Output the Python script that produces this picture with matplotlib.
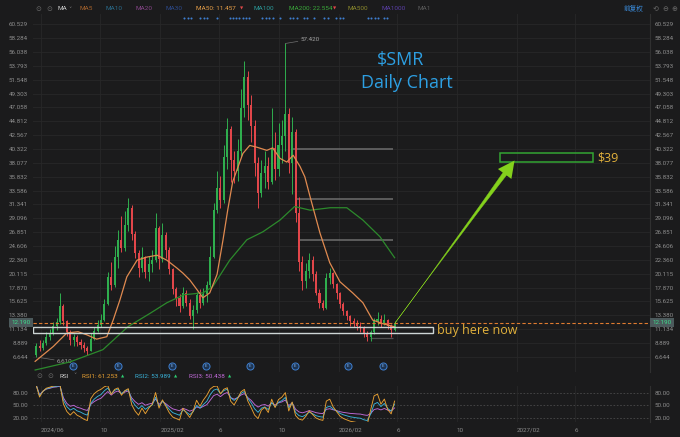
import matplotlib
matplotlib.use('Agg')
import matplotlib.pyplot as plt
import matplotlib.dates as mdates
from matplotlib.patches import Rectangle
from matplotlib.transforms import blended_transform_factory
import numpy as np
import pandas as pd

# ---------------- data (weekly candles) ----------------
start_week = '2024-05-20'
first_open = 7.0
closes = [8.4, 8.0, 8.8, 9.8, 10.4, 11.6, 12.2, 14.8, 12.4, 10.6,
          9.4, 9.8, 9.0, 8.6, 8.0, 7.6, 9.6, 10.8, 11.8, 12.6,
          15.2, 19.6, 18.2, 22.8, 25.6, 24.2, 28.0, 30.8, 26.5, 23.5,
          21.0, 22.8, 20.4, 21.6, 22.4, 27.5, 22.5, 26.4, 24.0, 20.8,
          17.6, 16.2, 14.8, 17.0, 15.4, 13.2, 14.2, 16.6, 15.4, 16.8,
          18.2, 22.8, 30.5, 34.0, 32.0, 39.0, 43.5, 38.5, 36.8, 40.0,
          47.0, 52.0, 47.5, 44.0, 38.0, 33.2, 36.5, 37.5, 35.0, 40.5,
          37.0, 41.0, 42.5, 46.0, 38.0, 43.0, 30.0, 22.0, 19.0, 20.5,
          22.4, 20.0, 17.0, 15.4, 14.6, 19.4, 20.2, 18.4, 17.0, 15.2,
          14.0, 13.2, 12.4, 12.0, 11.6, 11.4, 10.4, 9.8, 10.6, 12.4,
          12.8, 12.0, 12.6, 11.6, 11.0, 12.19]
highs = [8.8, 9.3, 9.4, 10.6, 11.2, 12.3, 13.0, 17.0, 15.2, 12.6,
         11.0, 10.4, 10.2, 9.6, 9.0, 8.4, 10.5, 11.4, 12.6, 13.6,
         16.0, 20.4, 22.0, 24.6, 27.2, 29.5, 30.2, 32.4, 31.2, 27.0,
         24.0, 24.5, 23.0, 23.0, 24.0, 30.0, 27.8, 28.3, 26.8, 24.4,
         21.0, 18.0, 16.8, 18.0, 17.4, 16.0, 15.0, 17.2, 17.6, 17.8,
         19.0, 24.6, 31.5, 36.8, 36.0, 41.0, 45.3, 44.0, 40.0, 42.0,
         50.0, 54.5, 53.0, 49.0, 45.0, 39.0, 38.5, 40.0, 39.0, 47.0,
         43.0, 44.5, 45.0, 57.42, 47.0, 45.5, 43.5, 32.5, 23.0, 21.8,
         23.4, 23.0, 20.6, 17.6, 15.8, 20.2, 21.0, 20.4, 18.6, 17.2,
         15.6, 14.2, 13.4, 13.0, 12.6, 12.2, 11.6, 10.8, 11.0, 13.0,
         13.9, 13.4, 13.6, 12.8, 12.0, 12.5]
lows = [6.61, 7.6, 7.8, 8.6, 9.3, 10.2, 11.0, 12.0, 11.8, 10.0,
        8.6, 8.4, 8.4, 7.9, 7.4, 7.0, 7.5, 9.4, 10.6, 11.4,
        12.4, 15.0, 17.4, 18.0, 21.0, 23.6, 23.8, 27.0, 25.6, 22.6,
        19.6, 20.4, 19.4, 19.0, 20.4, 22.0, 20.8, 22.0, 22.6, 20.0,
        16.8, 14.8, 13.9, 14.6, 14.8, 12.8, 11.1, 13.8, 14.6, 15.0,
        15.6, 18.0, 22.6, 30.0, 30.8, 31.6, 37.0, 35.0, 34.8, 35.2,
        39.0, 45.5, 45.0, 41.5, 36.0, 30.8, 32.6, 34.0, 33.8, 34.6,
        35.3, 36.0, 38.0, 40.0, 36.5, 33.0, 28.5, 20.5, 17.5, 17.8,
        19.4, 19.0, 16.6, 14.6, 14.2, 14.4, 18.4, 17.8, 16.0, 14.6,
        13.4, 12.6, 11.6, 11.4, 11.0, 10.6, 9.8, 9.2, 9.2, 10.4,
        11.8, 11.4, 11.8, 11.2, 9.9, 10.8]

ma50_dates = ['2024-05-20', '2024-06-26', '2024-07-24', '2024-08-16', '2024-09-03',
              '2024-09-23', '2024-10-14', '2024-10-27', '2024-11-10', '2024-11-24',
              '2024-12-15', '2025-01-04', '2025-01-25', '2025-02-14', '2025-03-07',
              '2025-03-19', '2025-04-02', '2025-04-17', '2025-04-29', '2025-05-13',
              '2025-05-28', '2025-06-09', '2025-06-19', '2025-06-29', '2025-07-20',
              '2025-08-03', '2025-08-18', '2025-09-07', '2025-09-19', '2025-10-04',
              '2025-10-18', '2025-10-31', '2025-11-14', '2025-11-24', '2025-12-05',
              '2025-12-25', '2026-01-14', '2026-02-04', '2026-03-02', '2026-03-23',
              '2026-04-12', '2026-05-03', '2026-05-27']
ma50_vals = [5.9, 8.3, 10.5, 10.7, 10.2, 9.5, 9.9, 12.6, 15.9, 19.6,
             22.3, 22.8, 23.1, 22.3, 21.0, 20.2, 19.1, 17.5, 16.2, 17.0,
             20.0, 25.5, 30.5, 35.0, 39.6, 40.9, 40.6, 40.1, 40.5, 38.8,
             38.2, 39.3, 37.5, 35.8, 32.5, 26.7, 21.9, 18.8, 17.0, 15.4,
             12.6, 12.0, 11.5]
ma200_dates = ['2024-05-20', '2024-07-30', '2024-10-06', '2024-11-26', '2025-01-11',
               '2025-02-14', '2025-03-21', '2025-04-29', '2025-05-19', '2025-06-23',
               '2025-07-28', '2025-08-30', '2025-10-04', '2025-11-03', '2025-12-05',
               '2026-01-15', '2026-02-18', '2026-03-23', '2026-04-27', '2026-05-27']
ma200_vals = [4.5, 5.8, 7.8, 11.5, 13.7, 15.4, 16.7, 17.0, 18.0, 22.3,
              25.6, 26.9, 28.8, 31.0, 30.4, 30.8, 30.8, 28.8, 26.1, 22.7]

y_ticks = [6.644, 8.889, 11.134, 13.380, 15.625, 17.870, 20.115, 22.360, 24.606,
           26.851, 29.096, 31.341, 33.586, 35.832, 38.077, 40.322, 42.567, 44.812,
           47.058, 49.303, 51.548, 53.793, 56.038, 58.284, 60.529]
rsi_ticks = [20, 50, 80]
x_tick_dates = ['2024-06-01', '2024-10-01', '2025-02-01', '2025-06-01', '2025-10-01',
                '2026-02-01', '2026-06-01', '2026-10-01', '2027-02-01', '2027-06-01']
x_tick_labels = ['2024/06', '10', '2025/02', '6', '10', '2026/02', '6', '10', '2027/02', '6']

earn_dates = ['2024-08-05', '2024-11-05', '2025-02-24', '2025-05-06',
              '2025-08-04', '2025-11-04', '2026-02-20', '2026-05-03']
news_dates = ['2025-03-22', '2025-03-30', '2025-04-04', '2025-04-23', '2025-05-01',
              '2025-05-07', '2025-05-27', '2025-06-23', '2025-06-29', '2025-07-05',
              '2025-07-11', '2025-07-20', '2025-07-26', '2025-08-01', '2025-08-28',
              '2025-09-05', '2025-09-11', '2025-09-19', '2025-10-04', '2025-10-24',
              '2025-10-31', '2025-11-08', '2025-11-22', '2025-11-28', '2025-12-12',
              '2026-01-02', '2026-01-10', '2026-01-27', '2026-02-04', '2026-02-10',
              '2026-04-02', '2026-04-08', '2026-04-16', '2026-04-23', '2026-05-05',
              '2026-05-11']

level_prices = [40.32, 32.2, 25.57, 9.64]
level_starts = ['2025-10-31', '2025-11-05', '2025-11-14', '2026-04-06']
level_end = '2026-05-23'
last_price = 12.19
peak_price = 57.42
low_price = 6.61
buy_zone = (10.45, 11.52)
buy_zone_end = '2026-08-13'
target_zone = (38.21, 39.67)
target_dates = ('2026-12-29', '2027-07-07')
arrow_from = ('2026-05-28', 12.12)
arrow_to = ('2027-01-28', 38.45)

ma_names = ['MA5', 'MA10', 'MA20', 'MA30', 'MA50: 11.457', 'MA100',
            'MA200: 22.554', 'MA500', 'MA1000', 'MA1']
ma_colors = ['#a8642c', '#2a6c8c', '#88468a', '#2c4a8c', '#e8a048', '#2a9a9a',
             '#3aa83a', '#8c8a2c', '#5a3ea6', '#5c5c5c']
ma_xpos = [80, 105, 136, 166, 196, 254, 289, 347, 381, 418]
rsi_names = ['RSI1: 61.253', 'RSI2: 53.989', 'RSI3: 50.438']
rsi_colors = ['#e8a032', '#3ab2d8', '#c06ad8']
rsi_periods = [3, 5, 9]   # weekly-bar equivalents of the daily 6/12/24 periods
rsi_xpos = [82, 135, 189]

# ---------------- style ----------------
BG = '#1b1b1c'
GRID = '#282828'
LBL = '#8c8c8c'
UP = '#2fae4e'
DN = '#e2464a'
LIME = '#84d11c'
GOLD = '#e3b23c'
plt.rcParams['font.family'] = ['Roboto', 'DejaVu Sans']

W, H = 680, 437
fig = plt.figure(figsize=(W / 100, H / 100), dpi=100, facecolor=BG)
ax = fig.add_axes([33 / W, 1 - 372 / H, 617 / W, 358 / H], facecolor=BG)
rax = fig.add_axes([33 / W, 1 - 422 / H, 617 / W, 36 / H], facecolor=BG)

base = mdates.date2num(pd.Timestamp('2024-06-01'))
xlim = (base - 16.4, base + 1248.7)
px_per_unit = 6.17

# candles
dates = pd.date_range(start_week, periods=len(closes), freq='7D') + pd.Timedelta(days=2)
xd = mdates.date2num(dates)
c = np.array(closes)
o = np.concatenate([[first_open], c[:-1]])
h = np.array(highs)
l = np.array(lows)
cols = np.where(c >= o, UP, DN)
ax.vlines(xd, l, h, colors=cols, lw=0.7, zorder=3)
ax.bar(xd, np.maximum(np.abs(c - o), 0.12), bottom=np.minimum(o, c), width=4.2,
       color=cols, lw=0, zorder=3)

# moving averages
ax.plot(mdates.date2num(pd.to_datetime(ma200_dates)), ma200_vals, color='#2c8a2c', lw=0.9, zorder=4)
ax.plot(mdates.date2num(pd.to_datetime(ma50_dates)), ma50_vals, color='#e08a50', lw=0.9, zorder=4)

# horizontal levels
ax.hlines(level_prices[:3], mdates.date2num(pd.to_datetime(level_starts[:3])),
          mdates.date2num(pd.Timestamp(level_end)), color='#6e6e6e', lw=1.1, zorder=2)
ax.hlines(level_prices[3:], mdates.date2num(pd.to_datetime(level_starts[3:])),
          mdates.date2num(pd.Timestamp(level_end)), color='#505050', lw=0.9, zorder=2)

# current price line
ax.axhline(last_price, color='#e07b30', lw=0.8, ls=(0, (3, 2)), zorder=5)
tr_r = blended_transform_factory(ax.transAxes, ax.transData)
for xx, ha in [(1.004, 'left'), (-0.004, 'right')]:
    ax.text(xx, last_price, f'{last_price:.3f}', transform=tr_r, ha=ha, va='center',
            fontsize=4.5, color='#3fd98a', clip_on=False, zorder=10,
            bbox=dict(facecolor='#4c5a5c', edgecolor='none', pad=1.6))

# buy zone
bx0 = xlim[0]
bx1 = mdates.date2num(pd.Timestamp(buy_zone_end))
ax.add_patch(Rectangle((bx0, buy_zone[0]), bx1 - bx0, buy_zone[1] - buy_zone[0],
                       fill=False, edgecolor='#cdd5d5', lw=1.0, zorder=6))
ax.annotate('buy here now', xy=(bx1, sum(buy_zone) / 2), xytext=(3, -0.5),
            textcoords='offset points', ha='left', va='center', color=GOLD,
            fontsize=9, family='Open Sans', zorder=7)

# target zone
tx0, tx1 = mdates.date2num(pd.to_datetime(list(target_dates)))
ax.add_patch(Rectangle((tx0, target_zone[0]), tx1 - tx0, target_zone[1] - target_zone[0],
                       fill=False, edgecolor='#33a533', lw=1.1, zorder=6))
ax.annotate('$39', xy=(tx1, sum(target_zone) / 2), xytext=(3, 0),
            textcoords='offset points', ha='left', va='center', color=GOLD,
            fontsize=9, family='Open Sans', zorder=7)

# arrow
a0 = (mdates.date2num(pd.Timestamp(arrow_from[0])), arrow_from[1])
a1 = (mdates.date2num(pd.Timestamp(arrow_to[0])), arrow_to[1])
ax.annotate('', xy=a0, xytext=a1,
            arrowprops=dict(arrowstyle='wedge,tail_width=0.34,shrink_factor=0.2',
                            fc=LIME, ec=LIME, lw=0.3, shrinkA=6, shrinkB=0), zorder=8)
ax.annotate('', xy=a1, xytext=a0,
            arrowprops=dict(arrowstyle='-|>,head_length=1.0,head_width=0.5',
                            fc=LIME, ec=LIME, lw=0.01, mutation_scale=12,
                            shrinkA=0, shrinkB=0), zorder=8)

# high / low labels
peak_idx = int(np.argmax(h))
low_idx = int(np.argmin(l))
ax.annotate(f'{peak_price:.3f}', xy=(xd[peak_idx], peak_price), xytext=(11, 3),
            textcoords='offset points', ha='left', va='center', fontsize=4.5,
            color='#a0a0a0', arrowprops=dict(arrowstyle='-', color='#707070', lw=0.5,
                                             shrinkA=0, shrinkB=0))
ax.annotate(f'{low_price:.3f}', xy=(xd[low_idx], low_price), xytext=(15, -3.3),
            textcoords='offset points', ha='left', va='center', fontsize=4.5,
            color='#a0a0a0', arrowprops=dict(arrowstyle='-', color='#707070', lw=0.5,
                                             shrinkA=0, shrinkB=2))

# earnings markers and news dots
tr_b = blended_transform_factory(ax.transData, ax.transAxes)
ex = mdates.date2num(pd.to_datetime(earn_dates))
ax.scatter(ex, np.full(len(ex), 0.017), transform=tr_b, s=26, facecolor='#1d3452',
           edgecolor='#3f7fcf', lw=0.7, zorder=9, clip_on=False)
for e in ex:
    ax.text(e, 0.017, 'E', transform=tr_b, ha='center', va='center', fontsize=3.2,
            color='#7fb2ee', zorder=10)
nx = mdates.date2num(pd.to_datetime(news_dates))
ax.scatter(nx, np.full(len(nx), 0.989), transform=tr_b, s=2.2, color='#3f7fd0',
           lw=0, zorder=9)

# axes styling
tick_nums = mdates.date2num(pd.to_datetime(x_tick_dates))
for a in (ax, rax):
    a.set_xlim(*xlim)
    a.set_xticks(tick_nums)
    a.grid(True, axis='x', color=GRID, lw=0.6)
    for s in ('top', 'left', 'bottom'):
        a.spines[s].set_visible(False)
    a.spines['right'].set_color('#303030')
    a.spines['right'].set_linewidth(0.8)
    a.tick_params(axis='both', length=0, labelsize=4.5, labelcolor=LBL)
    a.tick_params(axis='y', labelleft=True, labelright=True, pad=3.5)

ax.set_ylim(60.529 - (372 - 24.3) / px_per_unit, 60.529 + (24.3 - 14) / px_per_unit)
ax.set_yticks(y_ticks)
ax.set_yticklabels([f'{v:.3f}' for v in y_ticks])
ax.grid(True, axis='y', color=GRID, lw=0.6)
ax.tick_params(axis='x', labelbottom=False)

# RSI panel
def rsi(series, n):
    d = np.diff(series, prepend=first_open)
    su = sa = 0.0
    out = []
    for dv in d:
        su = (max(dv, 0.0) + (n - 1) * su) / n
        sa = (abs(dv) + (n - 1) * sa) / n
        out.append(100 * su / sa if sa > 0 else 50.0)
    return np.array(out)

for n, col in zip(rsi_periods[::-1], rsi_colors[::-1]):
    rax.plot(xd, rsi(c, n), color=col, lw=0.65)
rax.set_ylim(9, 97)
rax.set_yticks(rsi_ticks)
rax.set_yticklabels([f'{v:.2f}' for v in rsi_ticks])
for v in rsi_ticks:
    rax.axhline(v, color='#4a4a4a', lw=0.6, ls=(0, (2, 2)), zorder=0)
rax.set_xticklabels(x_tick_labels)
rax.tick_params(axis='x', pad=4)
for t in rax.get_xticklabels():
    t.set_ha('left')

# title
fig.text(401 / W, 1 - 60 / H, '$SMR', ha='center', va='center', color='#2d9fe2',
         fontsize=13, family='Open Sans')
fig.text(407 / W, 1 - 83 / H, 'Daily Chart', ha='center', va='center', color='#2d9fe2',
         fontsize=13, family='Open Sans')

# top indicator bar
ty = 1 - 9 / H
fig.text(35 / W, ty, '\u2299', color='#6a6a6a', fontsize=5, va='center', family='DejaVu Sans')
fig.text(46 / W, ty, '\u2299', color='#6a6a6a', fontsize=5, va='center', family='DejaVu Sans')
fig.text(58 / W, ty, 'MA', color='#cfcfcf', fontsize=4.6, va='center')
fig.text(68 / W, ty, '\u02c5', color='#7a7a7a', fontsize=4.6, va='center', family='DejaVu Sans')
for name, col, xp in zip(ma_names, ma_colors, ma_xpos):
    fig.text(xp / W, ty, name, color=col, fontsize=4.6, va='center')
fig.text(240 / W, ty, '\u25bc', color='#e04848', fontsize=3, va='center', family='DejaVu Sans')
fig.text(333 / W, ty, '\u25bc', color='#e04848', fontsize=3, va='center', family='DejaVu Sans')
fig.text(624 / W, ty, '前复权', color='#3a8ad8', fontsize=4.8, va='center',
         family=['Noto Sans CJK SC', 'DejaVu Sans'])
for xp, g in [(653, '\u27f2'), (662, '\u2296'), (671, '\u2295')]:
    fig.text(xp / W, ty, g, color='#6a6a6a', fontsize=5, va='center', family='DejaVu Sans')

# RSI legend row
ry = 1 - 376 / H
fig.text(36 / W, ry, '\u2299', color='#6a6a6a', fontsize=5, va='center', family='DejaVu Sans')
fig.text(47 / W, ry, '\u2299', color='#6a6a6a', fontsize=5, va='center', family='DejaVu Sans')
fig.text(59 / W, ry, 'RSI', color='#cfcfcf', fontsize=4.6, va='center')
fig.text(73 / W, ry, '\u02c5', color='#7a7a7a', fontsize=4.6, va='center', family='DejaVu Sans')
for name, col, xp in zip(rsi_names, rsi_colors, rsi_xpos):
    fig.text(xp / W, ry, name, color=col, fontsize=4.6, va='center')
    fig.text((xp + 39) / W, ry, '\u25b2', color='#2ecc71', fontsize=3, va='center',
             family='DejaVu Sans')

fig.savefig('out.png', dpi=100, facecolor=BG)
